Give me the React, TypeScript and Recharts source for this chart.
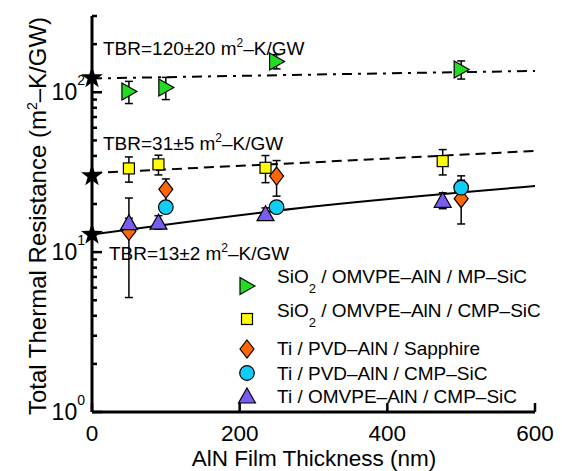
import React from "react";
import { ComposedChart, Line, Scatter, XAxis, YAxis, ErrorBar } from "recharts";

const FONT = '"Liberation Sans", Arial, Helvetica, sans-serif';

// axis ticks
const xTicks = [0, 200, 400, 600];
const yTicks = [1, 2, 3, 4, 5, 6, 7, 8, 9, 10, 20, 30, 40, 50, 60, 70, 80, 90, 100, 200, 300];
const yMajor = [1, 10, 100];
const yMajorExp = ["0", "1", "2"];

// SiO2 / OMVPE-AlN / MP-SiC
const mpX = [50, 100, 250, 500];
const mpY = [101, 107, 156, 139];
const mpErr = [16, 17, 16, 18];
// SiO2 / OMVPE-AlN / CMP-SiC
const cmpX = [50, 90, 235, 475];
const cmpY = [33.4, 35.4, 33.7, 37.1];
const cmpErr = [6, 5, 6.5, 6.7];
// Ti / PVD-AlN / Sapphire
const sapX = [50, 100, 250, 500];
const sapY = [13.5, 24.7, 29.9, 21.6];
const sapErr = [8.3, 4, 7.5, 6.6];
// Ti / PVD-AlN / CMP-SiC
const pvdX = [100, 250, 500];
const pvdY = [19.1, 19.1, 25.3];
const pvdErr = [1.5, 1, 4.7];
// Ti / OMVPE-AlN / CMP-SiC
const omX = [50, 90, 235, 475];
const omY = [15.3, 15.4, 17.4, 21.1];
const omErr = [1, 1.5, 1.5, 2.4];

// TBR intercepts (stars) and the fitted lines
const tbrX = [0, 0, 0];
const tbrY = [123, 30, 12.9];
const fitX = [0, 300, 600];
const fitHigh = [122, 129, 136];
const fitMid = [31.3, 36.5, 43];
const fitLow = [12.9, 19.3, 25.9];

const GREEN = "#22dd22";
const YELLOW = "#ffff00";
const ORANGE = "#ff6600";
const CYAN = "#11ccf5";
const PURPLE = "#7b5cf0";

const pts = (xs: number[], ys: number[], es?: number[]) =>
  xs.map((x, i) => ({ x, y: ys[i], err: es ? es[i] : 0 }));

const RightTri = ({ cx, cy }: any) => (
  <polygon
    points={`${cx - 7},${cy - 8.5} ${cx + 8},${cy} ${cx - 7},${cy + 8.5}`}
    fill={GREEN} stroke="#000" strokeWidth={1.2}
  />
);
const Square = ({ cx, cy }: any) => (
  <rect x={cx - 5.5} y={cy - 5.5} width={11} height={11} fill={YELLOW} stroke="#000" strokeWidth={1.2} />
);
const Diamond = ({ cx, cy }: any) => (
  <polygon
    points={`${cx},${cy - 9} ${cx + 7},${cy} ${cx},${cy + 9} ${cx - 7},${cy}`}
    fill={ORANGE} stroke="#000" strokeWidth={1.2}
  />
);
const Circle = ({ cx, cy }: any) => (
  <circle cx={cx} cy={cy} r={7.3} fill={CYAN} stroke="#000" strokeWidth={1.2} />
);
const UpTri = ({ cx, cy }: any) => (
  <polygon
    points={`${cx},${cy - 8} ${cx + 8.5},${cy + 7} ${cx - 8.5},${cy + 7}`}
    fill={PURPLE} stroke="#000" strokeWidth={1.2}
  />
);
const Star = ({ cx, cy }: any) => {
  const p: string[] = [];
  for (let i = 0; i < 10; i++) {
    const r = i % 2 === 0 ? 11.5 : 4.6;
    const a = -Math.PI / 2 + (i * Math.PI) / 5;
    p.push(`${cx + r * Math.cos(a)},${cy + r * Math.sin(a)}`);
  }
  return <polygon points={p.join(" ")} fill="#000" />;
};

const LeftTick = (p: any) => {
  const { x, y, payload } = p;
  const k = yMajor.indexOf(payload.value);
  return (
    <g>
      <line x1={x} x2={x + (k >= 0 ? 10 : 5)} y1={y} y2={y} stroke="#000" strokeWidth={2.5} />
      {k >= 0 && (
        <text x={x - 7} y={y} textAnchor="end" fontSize={23} fill="#000" fontFamily={FONT}>
          <tspan dy={8}>10</tspan>
          <tspan dy={-15} fontSize={14}>{yMajorExp[k]}</tspan>
        </text>
      )}
    </g>
  );
};
const RightTick = (p: any) => {
  const { x, y, payload } = p;
  const major = yMajor.includes(payload.value);
  return <line x1={x} x2={x - (major ? 10 : 5)} y1={y} y2={y} stroke="#000" strokeWidth={2.5} />;
};
const BottomTick = (p: any) => {
  const { x, y, payload } = p;
  return (
    <g>
      <line x1={x} x2={x} y1={y} y2={y - 9} stroke="#000" strokeWidth={2.5} />
      <text x={x} y={y + 29} textAnchor="middle" fontSize={22.5} fill="#000" fontFamily={FONT}>
        {payload.value}
      </text>
    </g>
  );
};
const TopTick = (p: any) => {
  const { x, y } = p;
  return <line x1={x} x2={x} y1={y} y2={y + 9} stroke="#000" strokeWidth={2.5} />;
};

const axisLine = { stroke: "#000", strokeWidth: 3 };

const TbrText = ({ x, y, value }: { x: number; y: number; value: string }) => (
  <text x={x} y={y} fontSize={19} fill="#000" fontFamily={FONT}>
    {`TBR=${value} m`}
    <tspan dy={-8} fontSize={12}>2</tspan>
    <tspan dy={8}>–K/GW</tspan>
  </text>
);

const LegendRow = ({ y, ty, mark, children }: any) => (
  <g>
    {mark({ cx: 239, cy: y })}
    <text x={269} y={ty} fontSize={19} fill="#000" fontFamily={FONT}>
      {children}
    </text>
  </g>
);

export default function App() {
  return (
    <div style={{ width: 554, height: 463, fontFamily: FONT }}>
      <ComposedChart width={554} height={463} margin={{ top: 8, right: 27, bottom: 0, left: 0 }}>
        <XAxis
          type="number" dataKey="x" domain={[0, 600]} ticks={xTicks} interval={0}
          height={59} tickSize={0} tickMargin={0} tickLine={false}
          axisLine={axisLine} tick={BottomTick}
        />
        <XAxis
          xAxisId="top" orientation="top" type="number" dataKey="x" domain={[0, 600]}
          ticks={[200, 400]} interval={0} height={0} tickSize={0}
          tickMargin={0} tickLine={false} axisLine={axisLine} tick={TopTick}
        />
        <YAxis
          type="number" dataKey="y" scale="log" domain={[1, 300]} ticks={yTicks} interval={0}
          width={84} tickSize={0} tickMargin={0} tickLine={false}
          axisLine={axisLine} tick={LeftTick}
        />
        <YAxis
          yAxisId="right" orientation="right" type="number" dataKey="y" scale="log"
          domain={[1, 300]} ticks={yTicks} interval={0} width={0}
          tickSize={0} tickMargin={0} tickLine={false} axisLine={axisLine} tick={RightTick}
        />

        <Line data={pts(fitX, fitHigh)} dataKey="y" type="monotone" stroke="#000" strokeWidth={2}
          strokeDasharray="10 6 3 6" dot={false} isAnimationActive={false} />
        <Line data={pts(fitX, fitMid)} dataKey="y" type="monotone" stroke="#000" strokeWidth={2}
          strokeDasharray="10 6" dot={false} isAnimationActive={false} />
        <Line data={pts(fitX, fitLow)} dataKey="y" type="monotone" stroke="#000" strokeWidth={2}
          dot={false} isAnimationActive={false} />

        <Scatter data={pts(sapX, sapY, sapErr)} dataKey="y" shape={Diamond} isAnimationActive={false}>
          <ErrorBar dataKey="err" direction="y" width={4} stroke="#000" strokeWidth={1.5} isAnimationActive={false} />
        </Scatter>
        <Scatter data={pts(pvdX, pvdY, pvdErr)} dataKey="y" shape={Circle} isAnimationActive={false}>
          <ErrorBar dataKey="err" direction="y" width={4} stroke="#000" strokeWidth={1.5} isAnimationActive={false} />
        </Scatter>
        <Scatter data={pts(omX, omY, omErr)} dataKey="y" shape={UpTri} isAnimationActive={false}>
          <ErrorBar dataKey="err" direction="y" width={4} stroke="#000" strokeWidth={1.5} isAnimationActive={false} />
        </Scatter>
        <Scatter data={pts(cmpX, cmpY, cmpErr)} dataKey="y" shape={Square} isAnimationActive={false}>
          <ErrorBar dataKey="err" direction="y" width={4} stroke="#000" strokeWidth={1.5} isAnimationActive={false} />
        </Scatter>
        <Scatter data={pts(mpX, mpY, mpErr)} dataKey="y" shape={RightTri} isAnimationActive={false}>
          <ErrorBar dataKey="err" direction="y" width={4} stroke="#000" strokeWidth={1.5} isAnimationActive={false} />
        </Scatter>
        <Scatter data={pts(tbrX, tbrY)} dataKey="y" shape={Star} isAnimationActive={false} />

        <TbrText x={95} y={47} value="120±20" />
        <TbrText x={95} y={142} value="31±5" />
        <TbrText x={101} y={252} value="13±2" />

        <LegendRow y={278} ty={275} mark={RightTri}>
          SiO<tspan dy={10} fontSize={13}>2</tspan><tspan dy={-10}> / OMVPE–AlN / MP–SiC</tspan>
        </LegendRow>
        <LegendRow y={311} ty={309} mark={Square}>
          SiO<tspan dy={10} fontSize={13}>2</tspan><tspan dy={-10}> / OMVPE–AlN / CMP–SiC</tspan>
        </LegendRow>
        <LegendRow y={341} ty={347} mark={Diamond}>Ti / PVD–AlN / Sapphire</LegendRow>
        <LegendRow y={365} ty={372} mark={Circle}>Ti / PVD–AlN / CMP–SiC</LegendRow>
        <LegendRow y={388} ty={395} mark={UpTri}>Ti / OMVPE–AlN / CMP–SiC</LegendRow>

        <text x={306} y={458} textAnchor="middle" fontSize={22.5} fill="#000" fontFamily={FONT}>
          AlN Film Thickness (nm)
        </text>
        <text transform="rotate(-90)" x={-208} y={38} textAnchor="middle" fontSize={24} fill="#000" fontFamily={FONT}>
          Total Thermal Resistance (m<tspan dy={-9} fontSize={14}>2</tspan><tspan dy={9}>–K/GW)</tspan>
        </text>
      </ComposedChart>
    </div>
  );
}
